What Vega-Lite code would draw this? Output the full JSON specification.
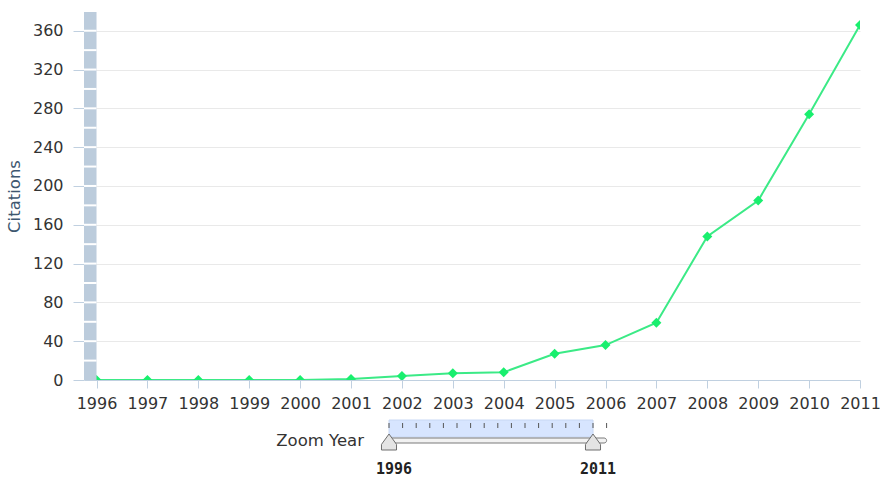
{
  "$schema": "https://vega.github.io/schema/vega-lite/v6.json",
  "width": 776,
  "height": 368,
  "autosize": {"type": "none"},
  "padding": {"left": 84, "top": 12, "right": 20, "bottom": 97},
  "background": "white",
  "config": {"view": {"stroke": null}},
  "datasets": {
    "citations": [
      {"year": 1996, "citations": 0},
      {"year": 1997, "citations": 0},
      {"year": 1998, "citations": 0},
      {"year": 1999, "citations": 0},
      {"year": 2000, "citations": 0},
      {"year": 2001, "citations": 1},
      {"year": 2002, "citations": 4},
      {"year": 2003, "citations": 7},
      {"year": 2004, "citations": 8},
      {"year": 2005, "citations": 27},
      {"year": 2006, "citations": 36},
      {"year": 2007, "citations": 59},
      {"year": 2008, "citations": 148},
      {"year": 2009, "citations": 185},
      {"year": 2010, "citations": 274},
      {"year": 2011, "citations": 366}
    ],
    "bandMarks": [
      {"v": 20}, {"v": 40}, {"v": 60}, {"v": 80}, {"v": 100}, {"v": 120},
      {"v": 140}, {"v": 160}, {"v": 180}, {"v": 200}, {"v": 220}, {"v": 240},
      {"v": 260}, {"v": 280}, {"v": 300}, {"v": 320}, {"v": 340}, {"v": 360}
    ],
    "zoom": [{"start": 1996, "end": 2011}],
    "handles": [{"year": 1996}, {"year": 2011}],
    "sliderTicks": [
      {"year": 1996}, {"year": 1997}, {"year": 1998}, {"year": 1999},
      {"year": 2000}, {"year": 2001}, {"year": 2002}, {"year": 2003},
      {"year": 2004}, {"year": 2005}, {"year": 2006}, {"year": 2007},
      {"year": 2008}, {"year": 2009}, {"year": 2010}, {"year": 2011},
      {"year": 2012}
    ]
  },
  "layer": [
    {
      "layer": [
        {
          "data": {"name": "citations"},
          "mark": {"type": "line", "color": "#3BEA86", "strokeWidth": 2, "clip": true},
          "encoding": {
            "x": {
              "field": "year", "type": "quantitative",
              "scale": {"domain": [1995.754, 2011], "nice": false, "zero": false, "padding": 0},
              "axis": {
                "title": null,
                "values": [1996, 1997, 1998, 1999, 2000, 2001, 2002, 2003, 2004, 2005, 2006, 2007, 2008, 2009, 2010, 2011],
                "format": "d",
                "grid": false,
                "domainColor": "#C0D0E0",
                "tickColor": "#C0D0E0",
                "tickSize": 8,
                "labelFont": "DejaVu Sans",
                "labelFontSize": 16,
                "labelColor": "#333333",
                "labelPadding": 7,
                "labelFlush": false,
                "labelOverlap": false
              }
            },
            "y": {
              "field": "citations", "type": "quantitative",
              "scale": {"domain": [0, 379.3], "nice": false, "padding": 0},
              "axis": {
                "title": "Citations",
                "values": [0, 40, 80, 120, 160, 200, 240, 280, 320, 360],
                "domain": false,
                "grid": true,
                "gridColor": "#E9E9E9",
                "tickColor": "#C0D0E0",
                "tickSize": 11,
                "labelFont": "DejaVu Sans",
                "labelFontSize": 16,
                "labelColor": "#333333",
                "labelPadding": 10,
                "titleFont": "DejaVu Sans",
                "titleFontSize": 16.5,
                "titleFontWeight": "normal",
                "titleColor": "#3E576F",
                "titlePadding": 10
              }
            }
          }
        },
        {
          "data": {"name": "citations"},
          "mark": {"type": "point", "shape": "diamond", "filled": true, "size": 100, "color": "#19EF6E", "opacity": 1, "clip": true},
          "encoding": {
            "x": {"field": "year", "type": "quantitative"},
            "y": {"field": "citations", "type": "quantitative"}
          }
        },
        {
          "data": {"values": [{}]},
          "mark": {"type": "rect", "color": "#BCCCDC"},
          "encoding": {
            "x": {"datum": 1995.754, "type": "quantitative"},
            "x2": {"datum": 1996},
            "y": {"datum": 379.3, "type": "quantitative"},
            "y2": {"datum": 0}
          }
        },
        {
          "data": {"name": "bandMarks"},
          "mark": {"type": "rule", "color": "#FFFFFF", "strokeWidth": 2},
          "encoding": {
            "x": {"datum": 1995.754, "type": "quantitative"},
            "x2": {"datum": 1996},
            "y": {"field": "v", "type": "quantitative"}
          }
        }
      ]
    },
    {
      "layer": [
        {
          "data": {"name": "zoom"},
          "mark": {"type": "rect", "fill": "#D7E5FF", "stroke": "#C8D8F4", "strokeWidth": 1},
          "encoding": {
            "x": {
              "field": "start", "type": "quantitative",
              "scale": {"domain": [1996, 2012], "range": [305, 522.6], "nice": false, "zero": false, "padding": 0},
              "axis": null
            },
            "x2": {"field": "end"},
            "y": {
              "datum": 1, "type": "quantitative",
              "scale": {"domain": [0, 1], "range": [458, 408], "nice": false, "zero": false, "padding": 0},
              "axis": null
            },
            "y2": {"datum": 0.66}
          }
        },
        {
          "data": {"name": "sliderTicks"},
          "mark": {"type": "rule", "color": "#555555", "strokeWidth": 1},
          "encoding": {
            "x": {"field": "year", "type": "quantitative"},
            "y": {"datum": 0.94, "type": "quantitative"},
            "y2": {"datum": 0.84}
          }
        },
        {
          "data": {"values": [{}]},
          "mark": {"type": "rect", "fill": "#F2F2F2", "stroke": "#7A7A7A", "strokeWidth": 1, "cornerRadius": 2.5},
          "encoding": {
            "x": {"datum": 1996, "type": "quantitative"},
            "x2": {"datum": 2012},
            "y": {"datum": 0.64, "type": "quantitative"},
            "y2": {"datum": 0.54}
          }
        },
        {
          "data": {"name": "handles"},
          "mark": {
            "type": "point",
            "shape": "M0,-1L0.94,0.3L0.94,1L-0.94,1L-0.94,0.3Z",
            "size": 256,
            "filled": true,
            "fill": "#E4E4E4",
            "stroke": "#6E6E6E",
            "strokeWidth": 1,
            "opacity": 1
          },
          "encoding": {
            "x": {"field": "year", "type": "quantitative"},
            "y": {"datum": 0.56, "type": "quantitative"}
          }
        },
        {
          "data": {"name": "handles"},
          "mark": {
            "type": "text",
            "font": "DejaVu Sans Mono",
            "fontWeight": "bold",
            "fontSize": 15,
            "color": "#222222",
            "align": "center",
            "baseline": "top",
            "dx": 5
          },
          "encoding": {
            "x": {"field": "year", "type": "quantitative"},
            "y": {"datum": 0.17, "type": "quantitative"},
            "text": {"field": "year", "type": "quantitative", "format": "d"}
          }
        },
        {
          "data": {"values": [{"label": "Zoom Year"}]},
          "mark": {
            "type": "text",
            "font": "DejaVu Sans",
            "fontSize": 16.5,
            "color": "#333333",
            "align": "right",
            "baseline": "middle",
            "dx": -25
          },
          "encoding": {
            "x": {"datum": 1996, "type": "quantitative"},
            "y": {"datum": 0.58, "type": "quantitative"},
            "text": {"field": "label", "type": "nominal"}
          }
        }
      ]
    }
  ],
  "resolve": {"scale": {"x": "independent", "y": "independent"}}
}
